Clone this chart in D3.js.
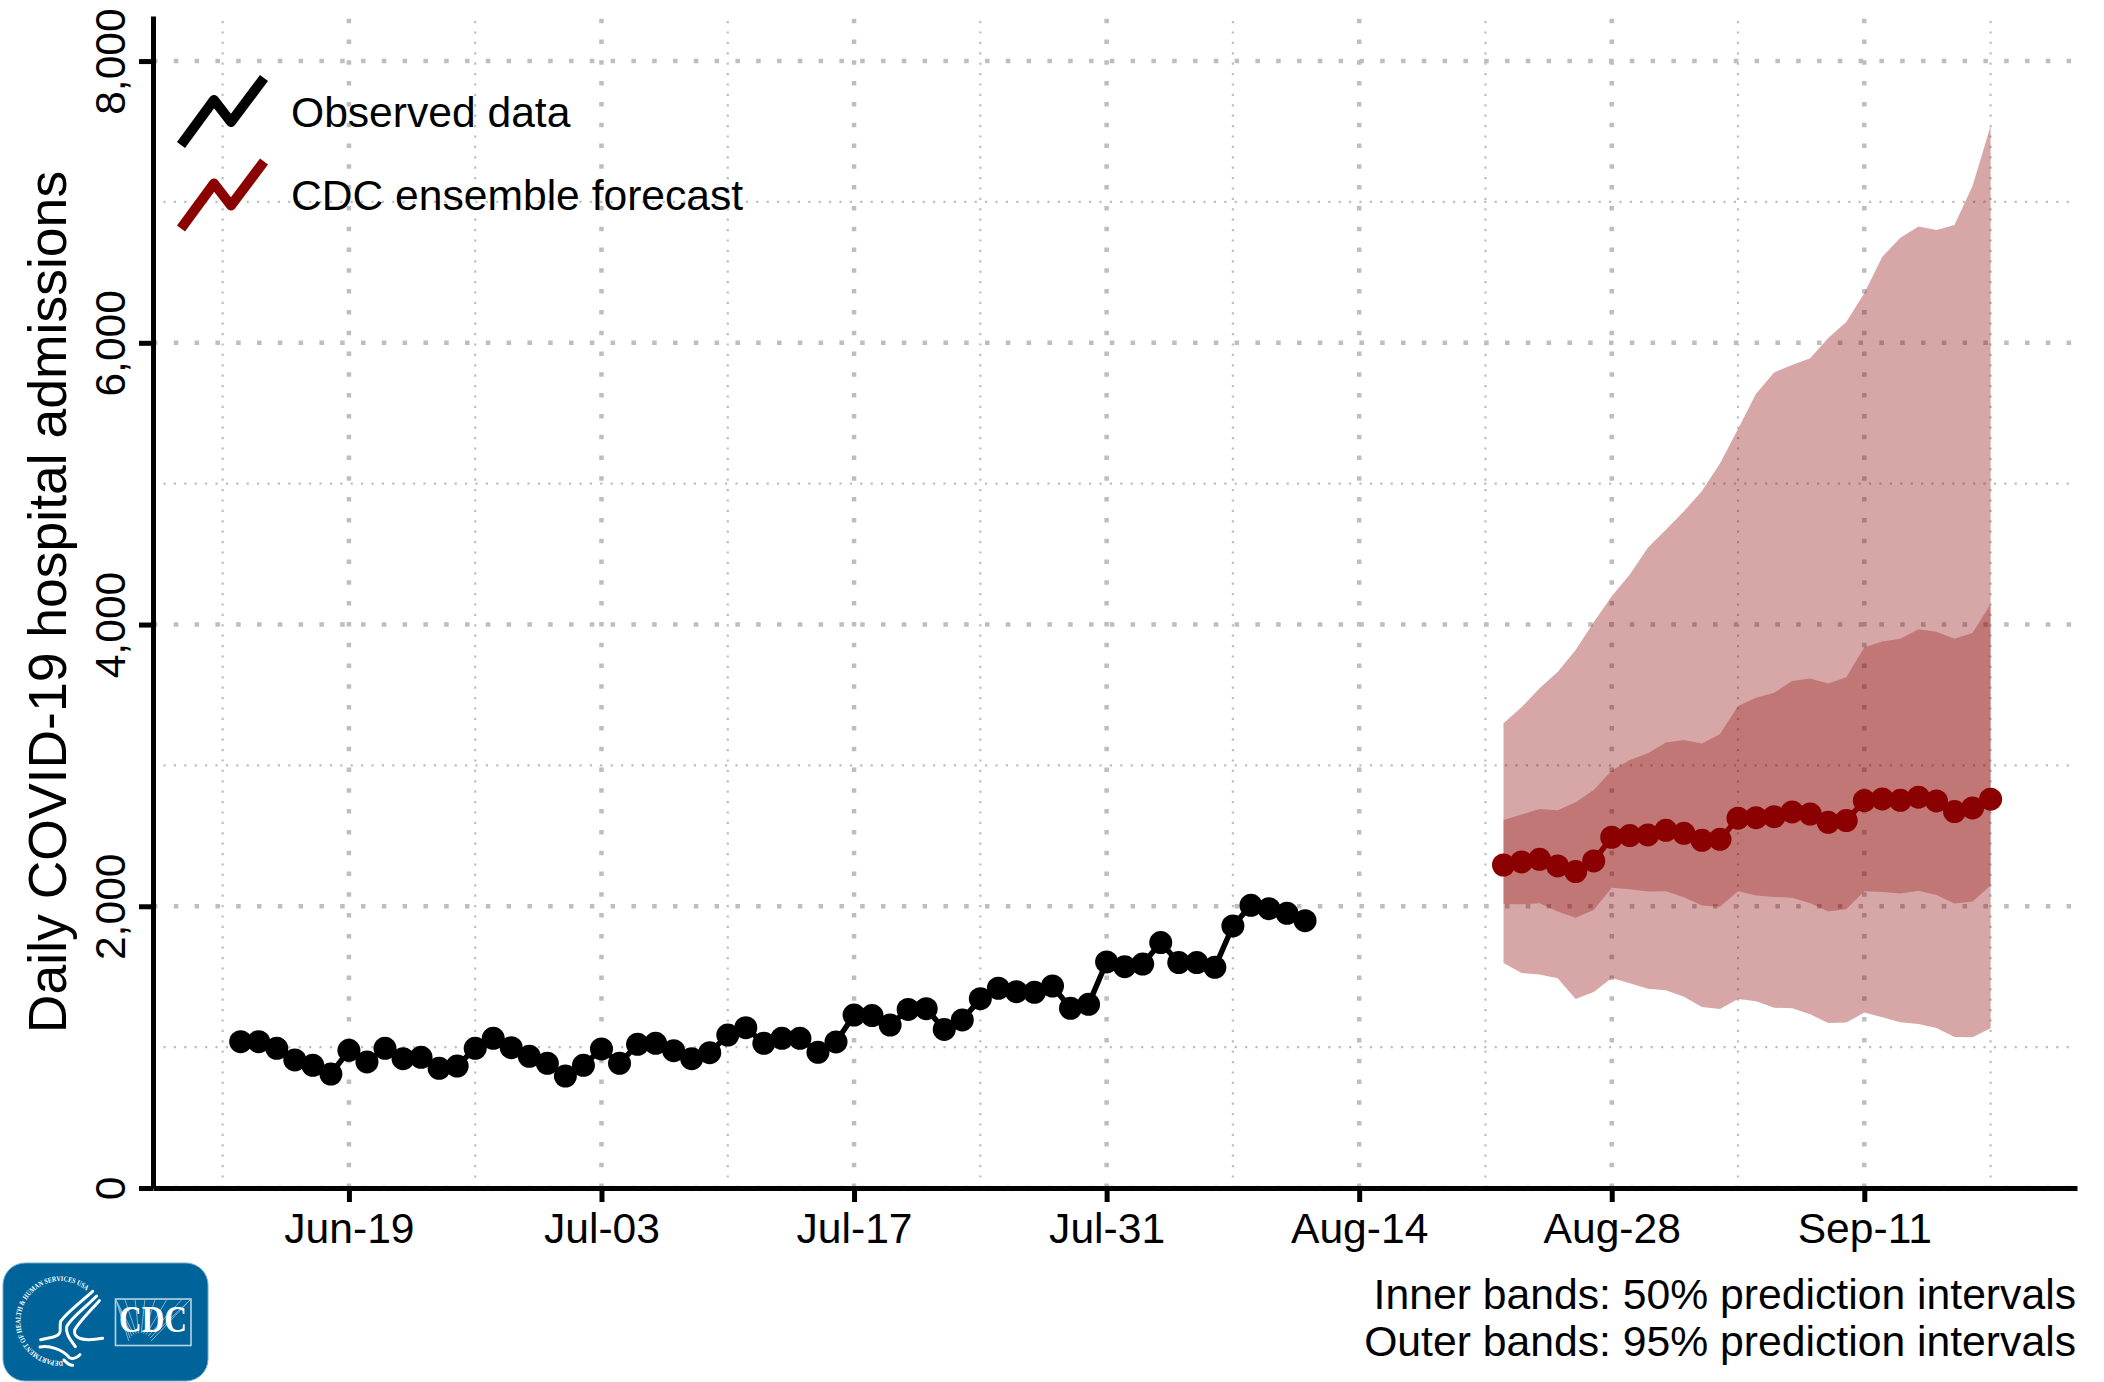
<!DOCTYPE html>
<html>
<head>
<meta charset="utf-8">
<title>Daily COVID-19 hospital admissions</title>
<script src="https://cdn.jsdelivr.net/npm/d3@7"></script>
<style>
  html, body { margin: 0; padding: 0; background: #fff; }
  svg { display: block; }
  text { font-family: "Liberation Sans", Arial, sans-serif; fill: #000; }
</style>
</head>
<body>
<svg id="chart" width="2104" height="1382"></svg>
<script>
// Jun-13 onwards, one value per day
var observedStart = '2021-06-13';
var observed = [
  1039, 1039, 992, 909, 871, 809, 977, 895, 992, 918,
  928, 850, 866, 992, 1063, 996, 935, 885, 795, 871,
  987, 885, 1020, 1027, 975, 918, 961, 1086, 1138, 1027,
  1063, 1063, 963, 1037, 1228, 1224, 1157, 1268, 1273, 1126,
  1193, 1344, 1418, 1394, 1389, 1434, 1276, 1304, 1605, 1571,
  1590, 1742, 1600, 1600, 1567, 1860, 2007, 1983, 1950, 1898
];

// Aug-22 to Sep-18
var forecastStart = '2021-08-22';
var median = [
  2293, 2315, 2333, 2286, 2246, 2322, 2490, 2502, 2506, 2539,
  2518, 2468, 2475, 2625, 2629, 2636, 2670, 2655, 2596, 2608,
  2750, 2762, 2752, 2774, 2748, 2672, 2698, 2760
];
var lower50 = [
  2016, 2014, 2021, 1962, 1919, 1974, 2132, 2120, 2104, 2106,
  2064, 2005, 1997, 2106, 2076, 2066, 2061, 2021, 1962, 1978,
  2106, 2102, 2090, 2111, 2080, 2019, 2033, 2147
];
var upper50 = [
  2613, 2651, 2691, 2681, 2738, 2826, 2963, 3039, 3086, 3162,
  3181, 3155, 3223, 3422, 3481, 3515, 3600, 3617, 3581, 3625,
  3839, 3880, 3899, 3967, 3948, 3899, 3940, 4146
];
var lower95 = [
  1597, 1526, 1515, 1489, 1342, 1392, 1491, 1453, 1415, 1403,
  1358, 1285, 1271, 1342, 1325, 1280, 1276, 1233, 1171, 1174,
  1245, 1212, 1176, 1164, 1136, 1072, 1070, 1134
];
var upper95 = [
  3299, 3413, 3548, 3663, 3820, 4016, 4200, 4356, 4545, 4673,
  4804, 4948, 5143, 5388, 5638, 5790, 5842, 5891, 6035, 6148,
  6352, 6611, 6746, 6825, 6801, 6836, 7113, 7540
];

var majorDates = ['2021-06-19', '2021-07-03', '2021-07-17', '2021-07-31', '2021-08-14', '2021-08-28', '2021-09-11'];
var minorDates = ['2021-06-12', '2021-06-26', '2021-07-10', '2021-07-24', '2021-08-07', '2021-08-21', '2021-09-04', '2021-09-18'];
var majorY = [0, 2000, 4000, 6000, 8000];
var minorY = [1000, 3000, 5000, 7000];

var legendItems = ['Observed data', 'CDC ensemble forecast'];
var noteLines = ['Inner bands: 50% prediction intervals', 'Outer bands: 95% prediction intervals'];

var DAY = 86400000;
var parse = d3.utcParse('%Y-%m-%d');
var RED = '#8b0000';
var GRID = '#bebebe';

function daysFrom(start, values) {
  return values.map((v, i) => ({ date: new Date(parse(start).getTime() + i * DAY), val: v }));
}

var svg = d3.select('#chart');
var plotLeft = 153, plotRight = 2077, plotTop = 16, plotBottom = 1188;

var scX = d3
  .scaleUtc()
  .domain([new Date(parse('2021-06-19').getTime() - 10.86 * DAY), new Date(parse('2021-06-19').getTime() + 95.79 * DAY)])
  .range([plotLeft, plotRight]);
var scY = d3.scaleLinear().domain([0, 8320]).range([plotBottom, plotTop]);

// Grid: drawn from the bottom and the left, the dots start there
function grid(dates, ys, width, dash) {
  var g = svg.append('g').attr('stroke', GRID).attr('stroke-width', width).attr('stroke-dasharray', dash);
  g.selectAll('.v')
    .data(dates)
    .enter()
    .append('line')
    .attr('x1', (d) => scX(parse(d)))
    .attr('x2', (d) => scX(parse(d)))
    .attr('y1', plotBottom)
    .attr('y2', plotTop);
  g.selectAll('.h')
    .data(ys)
    .enter()
    .append('line')
    .attr('x1', plotLeft)
    .attr('x2', plotRight)
    .attr('y1', (d) => scY(d))
    .attr('y2', (d) => scY(d));
}
grid(minorDates, minorY, 2.2, '2.2 8.2');
grid(majorDates, majorY, 4.5, '4.5 16.3');

// Prediction bands
var fcDates = daysFrom(forecastStart, median).map((d) => d.date);
function band(lo, hi, opacity) {
  var area = d3
    .area()
    .x((d, i) => scX(fcDates[i]))
    .y0((d, i) => scY(lo[i]))
    .y1((d, i) => scY(hi[i]));
  svg.append('path').attr('d', area(fcDates)).attr('fill', RED).attr('fill-opacity', opacity);
}
band(lower95, upper95, 0.35);
band(lower50, upper50, 0.28);

function series(values, start, color) {
  var ds = daysFrom(start, values);
  var lnMkr = d3
    .line()
    .x((d) => scX(d.date))
    .y((d) => scY(d.val));
  var g = svg.append('g');
  g.append('path')
    .attr('d', lnMkr(ds))
    .attr('fill', 'none')
    .attr('stroke', color)
    .attr('stroke-width', 5.5);
  g.selectAll('circle')
    .data(ds)
    .enter()
    .append('circle')
    .attr('r', 11.5)
    .attr('cx', (d) => scX(d.date))
    .attr('cy', (d) => scY(d.val))
    .attr('fill', color);
}
series(observed, observedStart, '#000');
series(median, forecastStart, RED);

// Axes
var xAxis = d3
  .axisBottom(scX)
  .tickValues(majorDates.map(parse))
  .tickFormat(d3.utcFormat('%b-%d'))
  .tickSize(14)
  .tickSizeOuter(0)
  .tickPadding(0);
var gx = svg.append('g').attr('transform', 'translate(0,' + plotBottom + ')').call(xAxis);
gx.selectAll('text').attr('font-size', 42.6).attr('y', 55).attr('dy', 0);

var yAxis = d3
  .axisLeft(scY)
  .tickValues(majorY)
  .tickFormat(d3.format(','))
  .tickSize(14)
  .tickSizeOuter(0)
  .tickPadding(0);
var gy = svg.append('g').attr('transform', 'translate(' + plotLeft + ',0)').call(yAxis);
gy.selectAll('text')
  .attr('font-size', 42.6)
  .attr('text-anchor', 'middle')
  .attr('x', null)
  .attr('dy', 0)
  .attr('transform', 'translate(-28,0) rotate(-90)');

svg.selectAll('.domain').attr('stroke', '#000').attr('stroke-width', 5);
svg.selectAll('.tick line').attr('stroke', '#000').attr('stroke-width', 5);
svg.selectAll('.tick text').attr('fill', '#000').attr('font-family', '"Liberation Sans", Arial, sans-serif');

svg
  .append('text')
  .attr('transform', 'translate(66,602) rotate(-90)')
  .attr('text-anchor', 'middle')
  .attr('font-size', 53.5)
  .text('Daily COVID-19 hospital admissions');

// Legend
var legend = svg
  .selectAll('.legend')
  .data(legendItems)
  .enter()
  .append('g')
  .attr('class', 'legend')
  .attr('transform', (d, i) => 'translate(0,' + i * 83.5 + ')');
legend
  .append('path')
  .attr('d', 'M181 145 L214 100 L231 122 L264 78')
  .attr('fill', 'none')
  .attr('stroke-width', 10)
  .attr('stroke-linejoin', 'round')
  .attr('stroke', (d, i) => (i ? RED : '#000'));
legend
  .append('text')
  .attr('x', 291)
  .attr('y', 126.5)
  .attr('font-size', 42.6)
  .text((d) => d);

svg
  .selectAll('.note')
  .data(noteLines)
  .enter()
  .append('text')
  .attr('class', 'note')
  .attr('x', 2076)
  .attr('y', (d, i) => 1309 + i * 46.5)
  .attr('text-anchor', 'end')
  .attr('font-size', 42.7)
  .text((d) => d);

// CDC / HHS logo
function makeLogo() {
  var logo = svg.append('g');
  logo
    .append('rect')
    .attr('x', 3)
    .attr('y', 1263)
    .attr('width', 205)
    .attr('height', 118)
    .attr('rx', 22)
    .attr('fill', '#00639a')
    .attr('stroke', '#6fa8ca')
    .attr('stroke-width', 1);

  // seal text on a circle
  var seal = logo.append('g').attr('transform', 'translate(60,1321)');
  seal
    .append('path')
    .attr('id', 'sealArc')
    .attr('fill', 'none')
    .attr('d', 'M 3 40 A 40 40 0 1 1 29 -28');
  seal
    .append('text')
    .attr('font-size', 7.4)
    .style('font-family', '"Liberation Serif", serif')
    .style('font-weight', 'bold')
    .style('fill', '#fff')
    .append('textPath')
    .attr('href', '#sealArc')
    .attr('textLength', 156)
    .attr('lengthAdjust', 'spacingAndGlyphs')
    .text('DEPARTMENT OF HEALTH & HUMAN SERVICES USA');

  // eagle, in zoomed coordinates
  var eagle = logo
    .append('g')
    .attr('transform', 'translate(0,1258) scale(0.3333)')
    .attr('fill', 'none')
    .attr('stroke', '#fff')
    .attr('stroke-width', 9)
    .attr('stroke-linecap', 'round')
    .attr('stroke-linejoin', 'round');
  var feathers = [
    'M278 100 C245 130 198 165 182 190 C176 212 192 228 160 237 L122 245',
    'M290 114 C255 150 212 180 200 206 C196 232 216 250 226 266',
    'M298 128 C270 160 238 190 224 216 C220 240 245 252 308 241',
    'M120 267 C150 262 188 275 207 298 C215 305 232 300 240 290',
    'M192 306 C200 315 210 322 218 322'
  ];
  eagle
    .selectAll('path')
    .data(feathers)
    .enter()
    .append('path')
    .attr('d', (d) => d);

  // CDC box with its rays
  logo
    .append('rect')
    .attr('x', 115.5)
    .attr('y', 1299)
    .attr('width', 75.5)
    .attr('height', 46.5)
    .attr('fill', 'none')
    .attr('stroke', '#b5d5e6')
    .attr('stroke-width', 1.6);
  var rays = [-70, -55, -42, -30, -18, -6, 6, 18, 30, 42, 55, 70];
  logo
    .append('g')
    .attr('stroke', '#8fbcd6')
    .attr('stroke-width', 0.9)
    .selectAll('line')
    .data(rays)
    .enter()
    .append('line')
    .attr('x1', (d) => 140 + 12 * Math.sin((d * Math.PI) / 180))
    .attr('y1', (d) => 1345 - 12 * Math.cos((d * Math.PI) / 180))
    .attr('x2', (d) => Math.max(116, Math.min(190, 140 + 46 * Math.tan((d * Math.PI) / 180))))
    .attr('y2', 1300);
  logo
    .append('text')
    .attr('x', 153)
    .attr('y', 1332)
    .attr('text-anchor', 'middle')
    .attr('font-size', 37)
    .attr('textLength', 68)
    .attr('lengthAdjust', 'spacingAndGlyphs')
    .style('font-family', '"Liberation Serif", serif')
    .style('font-weight', 'bold')
    .style('fill', '#fff')
    .text('CDC');
}
makeLogo();
</script>
</body>
</html>
